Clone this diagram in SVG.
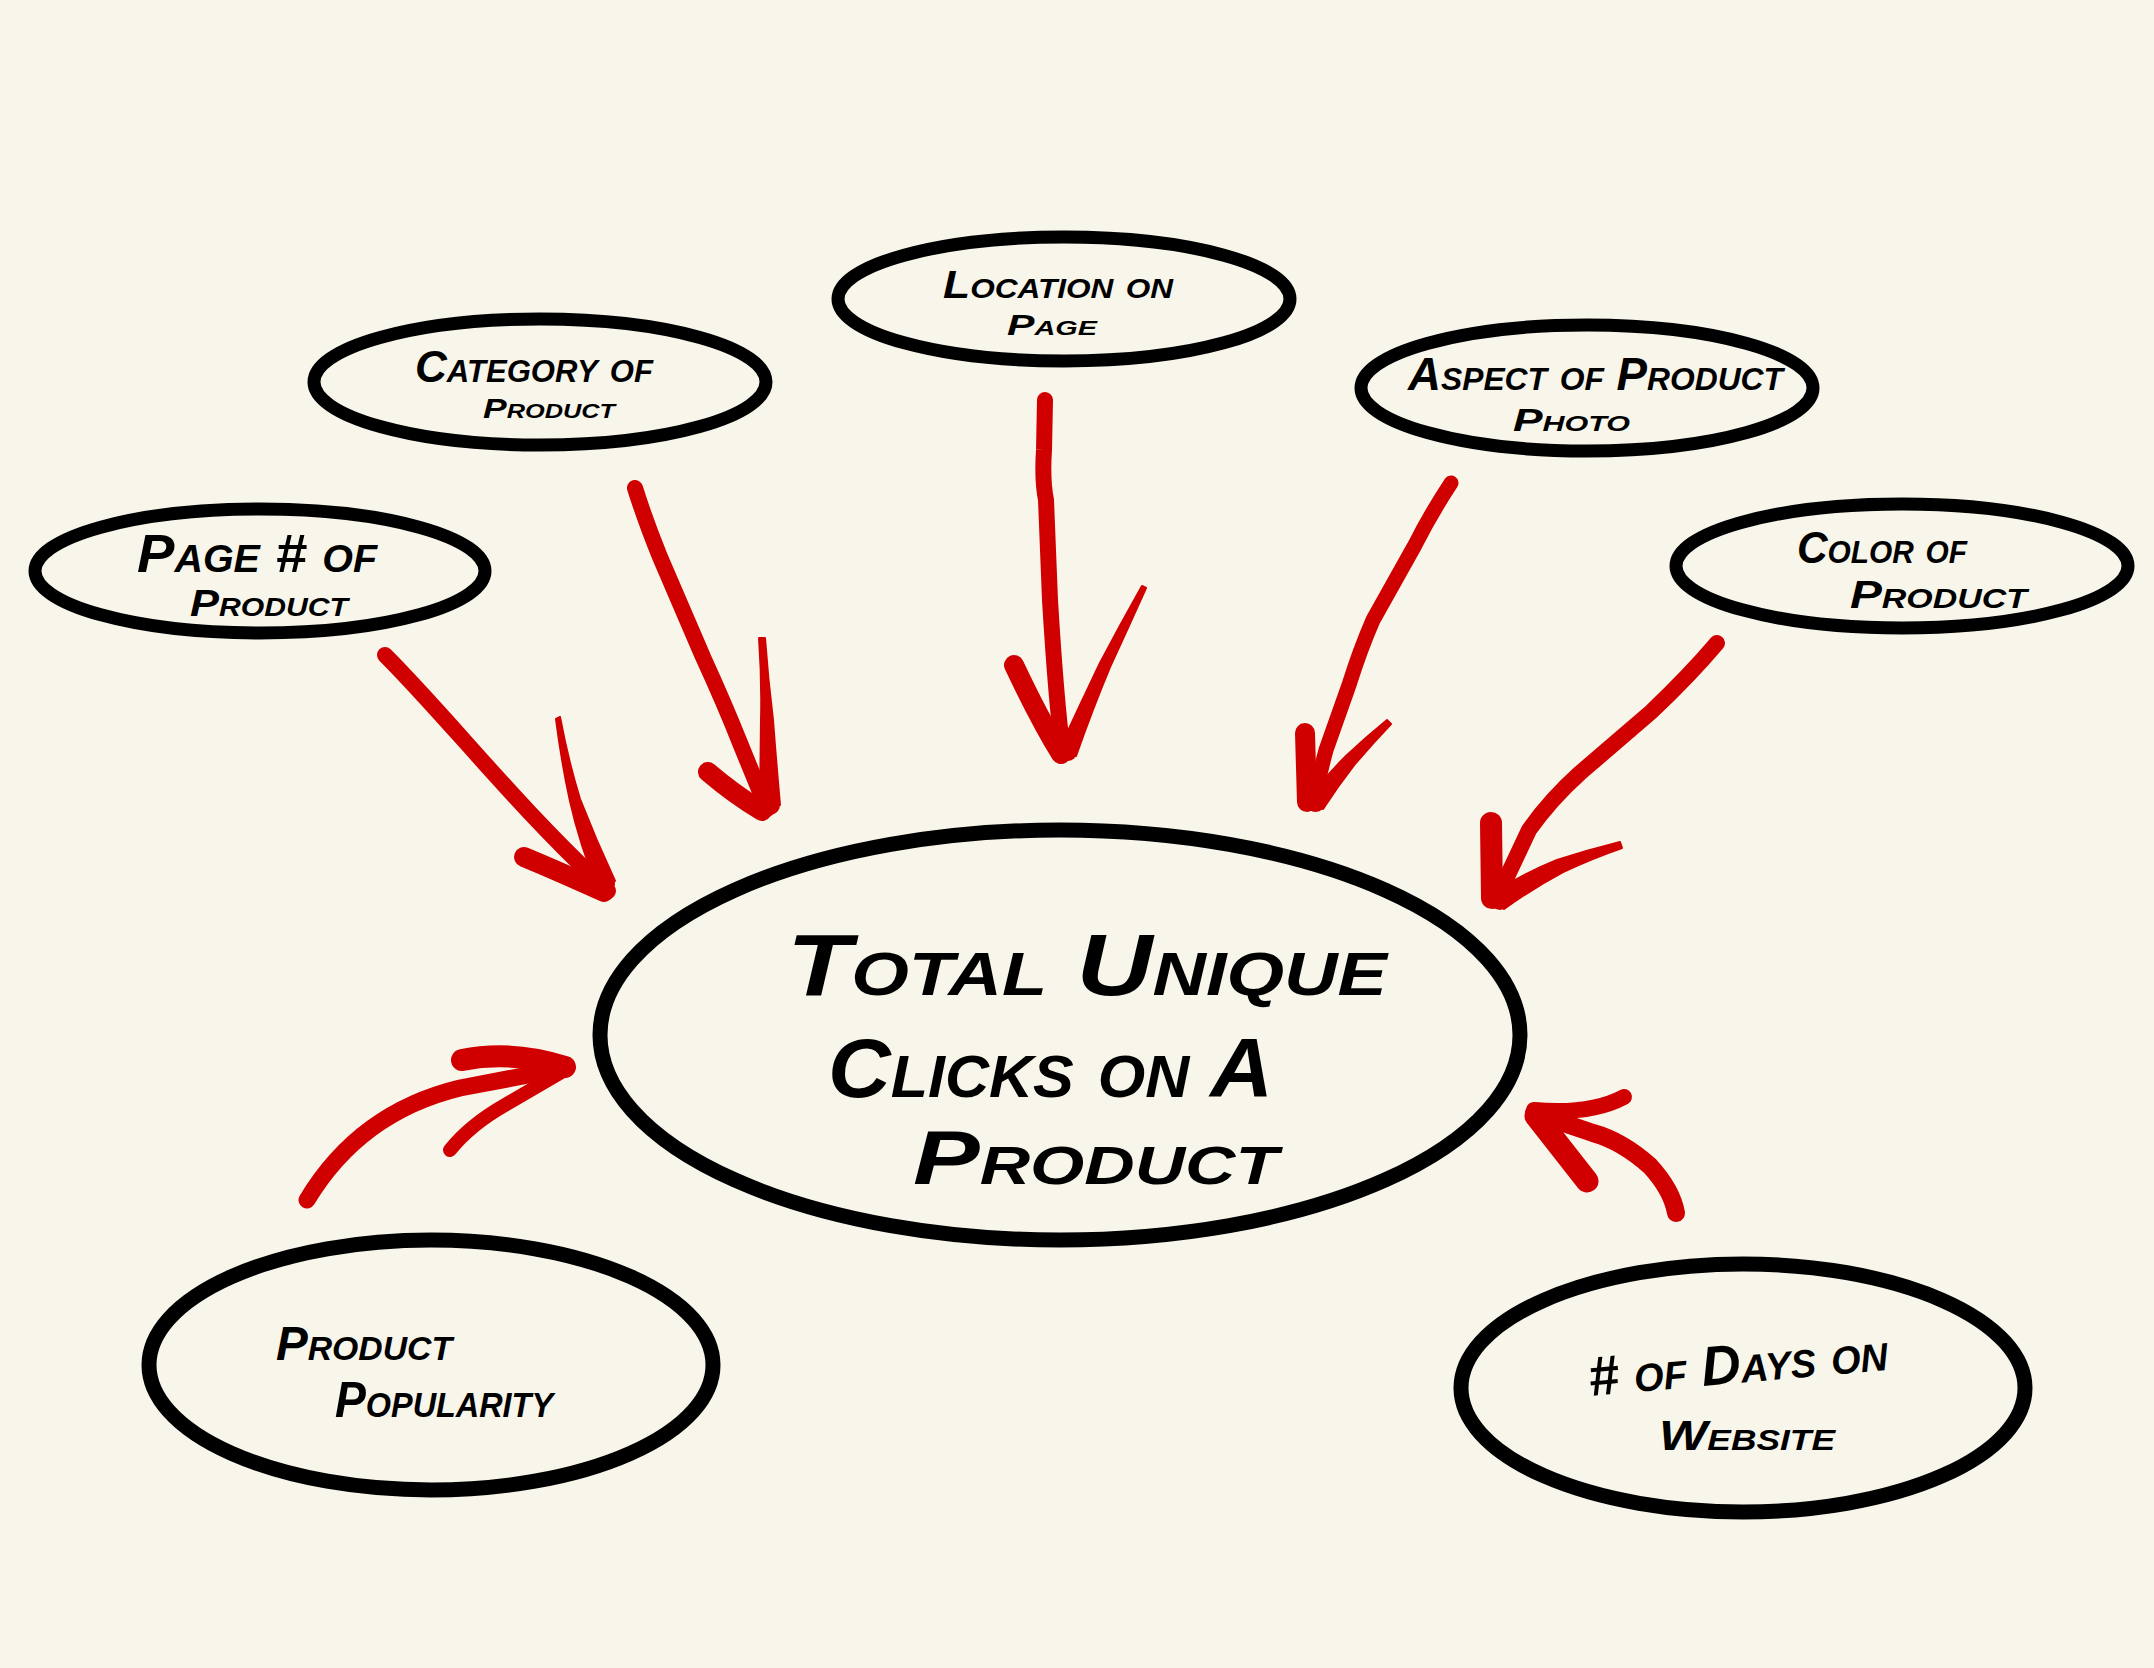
<svg xmlns="http://www.w3.org/2000/svg" width="2154" height="1668" viewBox="0 0 2154 1668">
  <style>
    .bubble { fill: none; stroke: #000; stroke-width: 13; }
    .bubble.big { stroke-width: 15; }
    .hand { font-family: "Liberation Sans", Arial, sans-serif; font-weight: bold; font-style: italic; font-variant: small-caps; fill: #000; }
    .ink { fill: none; stroke: #d00000; stroke-linecap: round; stroke-linejoin: round; }
    .taper { fill: #d00000; stroke: #d00000; stroke-width: 2; stroke-linejoin: round; }
  </style>
  <rect width="2154" height="1668" fill="#f8f6eb"/>

  <!-- central outcome -->
  <g id="node-total-clicks">
    <ellipse class="bubble big" cx="1060" cy="1035" rx="460" ry="205"/>
    <text class="hand" x="787" y="995" font-size="88" textLength="600" lengthAdjust="spacingAndGlyphs">Total Unique</text>
    <text class="hand" x="828" y="1097" font-size="84" textLength="445" lengthAdjust="spacingAndGlyphs">Clicks on A</text>
    <text class="hand" x="913" y="1184" font-size="76" textLength="365" lengthAdjust="spacingAndGlyphs">Product</text>
  </g>

  <g id="node-page-number">
    <ellipse class="bubble" cx="260" cy="571" rx="225" ry="62"/>
    <text class="hand" x="137" y="572" font-size="54" textLength="240" lengthAdjust="spacingAndGlyphs">Page # of</text>
    <text class="hand" x="190" y="616" font-size="36" textLength="158" lengthAdjust="spacingAndGlyphs">Product</text>
  </g>

  <g id="node-category">
    <ellipse class="bubble" cx="540" cy="382" rx="226" ry="63"/>
    <text class="hand" x="415" y="382" font-size="44" textLength="238" lengthAdjust="spacingAndGlyphs">Category of</text>
    <text class="hand" x="483" y="418" font-size="28" textLength="132" lengthAdjust="spacingAndGlyphs">Product</text>
  </g>

  <g id="node-location">
    <ellipse class="bubble" cx="1064" cy="299" rx="226" ry="62"/>
    <text class="hand" x="943" y="298" font-size="38" textLength="230" lengthAdjust="spacingAndGlyphs">Location on</text>
    <text class="hand" x="1007" y="335" font-size="30" textLength="90" lengthAdjust="spacingAndGlyphs">Page</text>
  </g>

  <g id="node-aspect">
    <ellipse class="bubble" cx="1587" cy="388" rx="226" ry="63"/>
    <text class="hand" x="1408" y="390" font-size="46" textLength="375" lengthAdjust="spacingAndGlyphs">Aspect of Product</text>
    <text class="hand" x="1513" y="431" font-size="32" textLength="117" lengthAdjust="spacingAndGlyphs">Photo</text>
  </g>

  <g id="node-color">
    <ellipse class="bubble" cx="1902" cy="566" rx="226" ry="62"/>
    <text class="hand" x="1797" y="563" font-size="44" textLength="170" lengthAdjust="spacingAndGlyphs">Color of</text>
    <text class="hand" x="1850" y="608" font-size="38" textLength="177" lengthAdjust="spacingAndGlyphs">Product</text>
  </g>

  <g id="node-popularity">
    <ellipse class="bubble big" cx="431" cy="1365" rx="282" ry="125"/>
    <text class="hand" x="276" y="1360" font-size="48" textLength="176" lengthAdjust="spacingAndGlyphs">Product</text>
    <text class="hand" x="335" y="1417" font-size="50" textLength="218" lengthAdjust="spacingAndGlyphs">Popularity</text>
  </g>

  <g id="node-days-on-site">
    <ellipse class="bubble big" cx="1743" cy="1388" rx="282" ry="124"/>
    <text class="hand" x="1590" y="1396" font-size="56" textLength="300" lengthAdjust="spacingAndGlyphs" transform="rotate(-5 1590 1396)"># of Days on</text>
    <text class="hand" x="1659" y="1450" font-size="42" textLength="176" lengthAdjust="spacingAndGlyphs">Website</text>
  </g>

  <!-- hand-drawn red arrows pointing into the central bubble -->
  <g id="connectors">
    <!-- from Page # of Product -->
    <path class="ink" stroke-width="16" d="M385,655 C 430,700 480,760 530,813 S 590,873 608,891"/>
    <path class="ink" stroke-width="20" d="M524,857 Q 560,872 604,892"/>
    <path class="taper" d="M556,719 Q 562,765 570,801 Q 580,845 597,886 L 615,881 Q 596,840 580,799 Q 568,760 560,717 Z"/>
    <circle cx="606" cy="884" r="9" fill="#d00000"/>

    <!-- from Category of Product -->
    <path class="ink" stroke-width="16" d="M635,488 Q 645,520 660,557 L 703,657 Q 725,705 740,743 Q 755,780 767,809"/>
    <path class="ink" stroke-width="20" d="M708,772 Q 735,795 762,811"/>
    <path class="taper" d="M759,638 Q 762,680 761,720 L 760,806 L 780,805 Q 776,760 773,720 Q 768,680 765,638 Z"/>
    <circle cx="770" cy="805" r="10" fill="#d00000"/>

    <!-- from Location on Page -->
    <path class="ink" stroke-width="16" d="M1045,400 L 1044,450 Q 1042,480 1046,500 L 1050,600 Q 1056,700 1063,754"/>
    <path class="ink" stroke-width="20" d="M1014,665 Q 1040,720 1061,754"/>
    <path class="taper" d="M1142,586 Q 1120,625 1100,663 Q 1080,705 1060,748 L 1076,756 Q 1092,710 1110,667 Q 1128,628 1146,588 Z"/>
    <circle cx="1068" cy="752" r="9" fill="#d00000"/>

    <!-- from Aspect of Product Photo -->
    <path class="ink" stroke-width="15" d="M1451,483 Q 1430,515 1415,545 L 1373,620 Q 1360,650 1349,685 L 1326,750 Q 1318,780 1314,804"/>
    <path class="ink" stroke-width="20" d="M1305,733 L 1307,802"/>
    <path class="taper" d="M1387,720 Q 1365,738 1346,756 Q 1326,776 1309,797 L 1323,809 Q 1338,786 1355,764 Q 1372,744 1391,724 Z"/>
    <circle cx="1316" cy="803" r="9" fill="#d00000"/>

    <!-- from Color of Product -->
    <path class="ink" stroke-width="16" d="M1717,643 Q 1690,675 1651,712 L 1580,773 Q 1550,800 1529,830 L 1497,898"/>
    <path class="ink" stroke-width="22" d="M1491,823 L 1492,898"/>
    <path class="taper" d="M1620,842 Q 1588,850 1557,860 Q 1525,873 1496,891 L 1504,909 Q 1533,888 1563,872 Q 1593,858 1622,848 Z"/>
    <circle cx="1500" cy="900" r="10" fill="#d00000"/>

    <!-- from Product Popularity -->
    <path class="ink" stroke-width="17" d="M307,1200 C 340,1145 390,1105 460,1088 L 565,1068"/>
    <path class="ink" stroke-width="22" d="M462,1060 Q 512,1050 565,1067"/>
    <path class="ink" stroke-width="14" d="M450,1150 Q 470,1125 505,1105 L 565,1070"/>

    <!-- from # of Days on Website -->
    <path class="ink" stroke-width="18" d="M1676,1213 Q 1672,1190 1650,1166 Q 1622,1141 1593,1133 L 1534,1113"/>
    <path class="ink" stroke-width="16" d="M1624,1097 Q 1590,1115 1534,1110"/>
    <path class="ink" stroke-width="23" d="M1587,1181 L 1536,1116"/>
  </g>
</svg>
